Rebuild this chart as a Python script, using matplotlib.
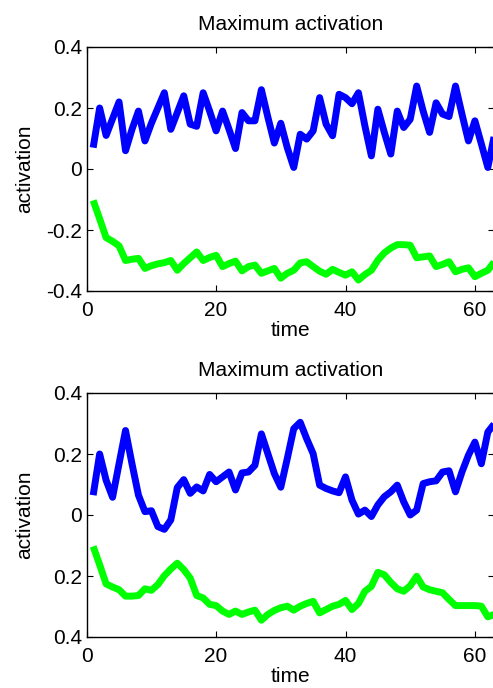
import matplotlib
matplotlib.use("Agg")
import matplotlib.pyplot as plt
import numpy as np

plt.rcParams['font.family'] = ['Liberation Sans', 'DejaVu Sans']

time = list(range(1, 64))

top_blue = [0.07, 0.20, 0.11, 0.165, 0.22, 0.06, 0.13, 0.19, 0.092, 0.15,
            0.20, 0.25, 0.13, 0.185, 0.24, 0.147, 0.14, 0.25, 0.19, 0.125,
            0.19, 0.13, 0.067, 0.185, 0.158, 0.158, 0.26, 0.17, 0.085, 0.15,
            0.07, 0.005, 0.114, 0.098, 0.125, 0.234, 0.147, 0.109, 0.245, 0.234,
            0.214, 0.25, 0.141, 0.043, 0.196, 0.12, 0.049, 0.19, 0.136, 0.163,
            0.272, 0.19, 0.12, 0.217, 0.18, 0.172, 0.272, 0.18, 0.092, 0.158,
            0.082, 0.005, 0.11]
top_green = [-0.103, -0.163, -0.225, -0.237, -0.252, -0.30, -0.296, -0.293, -0.326, -0.317,
             -0.311, -0.307, -0.30, -0.332, -0.31, -0.291, -0.272, -0.30, -0.29, -0.283,
             -0.32, -0.31, -0.302, -0.334, -0.32, -0.315, -0.342, -0.334, -0.326, -0.358,
             -0.342, -0.332, -0.308, -0.304, -0.32, -0.335, -0.345, -0.329, -0.339, -0.348,
             -0.337, -0.364, -0.346, -0.332, -0.299, -0.275, -0.259, -0.248, -0.248, -0.25,
             -0.291, -0.288, -0.285, -0.32, -0.313, -0.304, -0.337, -0.329, -0.324, -0.353,
             -0.342, -0.332, -0.304]
bot_blue = [0.065, 0.20, 0.114, 0.058, 0.168, 0.277, 0.168, 0.065, 0.011, 0.014,
            -0.038, -0.047, -0.016, 0.09, 0.116, 0.071, 0.092, 0.079, 0.133, 0.109,
            0.125, 0.141, 0.082, 0.138, 0.141, 0.163, 0.266, 0.201, 0.136, 0.091,
            0.185, 0.283, 0.304, 0.25, 0.201, 0.098, 0.087, 0.079, 0.073, 0.125,
            0.049, 0.003, 0.016, -0.005, 0.033, 0.06, 0.076, 0.098, 0.043, 0.0,
            0.016, 0.103, 0.109, 0.112, 0.141, 0.145, 0.076, 0.141, 0.196, 0.239,
            0.168, 0.272, 0.299]
bot_green = [-0.103, -0.163, -0.226, -0.236, -0.245, -0.266, -0.266, -0.264, -0.242, -0.247,
             -0.228, -0.199, -0.177, -0.158, -0.179, -0.207, -0.264, -0.272, -0.293, -0.297,
             -0.315, -0.326, -0.315, -0.326, -0.318, -0.312, -0.345, -0.326, -0.313, -0.304,
             -0.299, -0.312, -0.299, -0.29, -0.283, -0.321, -0.31, -0.299, -0.293, -0.28,
             -0.31, -0.29, -0.25, -0.234, -0.188, -0.196, -0.221, -0.242, -0.25, -0.232,
             -0.201, -0.236, -0.245, -0.25, -0.255, -0.277, -0.297, -0.297, -0.297, -0.297,
             -0.299, -0.334, -0.326]

x_ticks = [0, 20, 40, 60]
y_ticks = [-0.4, -0.2, 0, 0.2, 0.4]
top_ylabels = ['-0.4', '-0.2', '0', '0.2', '0.4']
bot_ylabels = ['0.4', '0.2', '0', '0.2', '0.4']

title = 'Maximum activation'
W, H = 493, 688
FS = 15
fig = plt.figure(figsize=(W / 100, H / 100), dpi=100)

def make_ax(top_px, bot_px, blue, green, ylabels):
    left = 86.7
    right = 86.7 + 63 * 6.47
    ax = fig.add_axes([left / W, 1 - bot_px / H, (right - left) / W, (bot_px - top_px) / H])
    ax.plot(time, blue, color='#0000ff', lw=5, solid_joinstyle='round', solid_capstyle='butt')
    ax.plot(time, green, color='#00ff00', lw=5, solid_joinstyle='round', solid_capstyle='butt')
    ax.set_xlim(0, 63)
    ax.set_ylim(-0.4, 0.4)
    ax.set_xticks(x_ticks)
    ax.set_yticks(y_ticks)
    ax.set_yticklabels(ylabels)
    ax.tick_params(direction='in', top=True, right=True, length=4, width=0.8,
                   labelsize=FS)
    ax.tick_params(axis='y', pad=3.5)
    ax.tick_params(axis='x', pad=7)
    for s in ax.spines.values():
        s.set_linewidth(1.0)
    ax.set_title(title, fontsize=FS, pad=12)
    ax.set_xlabel('time', fontsize=FS, labelpad=1)
    ax.set_ylabel('activation', fontsize=FS)
    ax.yaxis.set_label_coords((34 - left) / (right - left), 0.5)
    return ax

make_ax(47, 291, top_blue, top_green, top_ylabels)
make_ax(393, 637, bot_blue, bot_green, bot_ylabels)

fig.savefig('out.png', dpi=100)
